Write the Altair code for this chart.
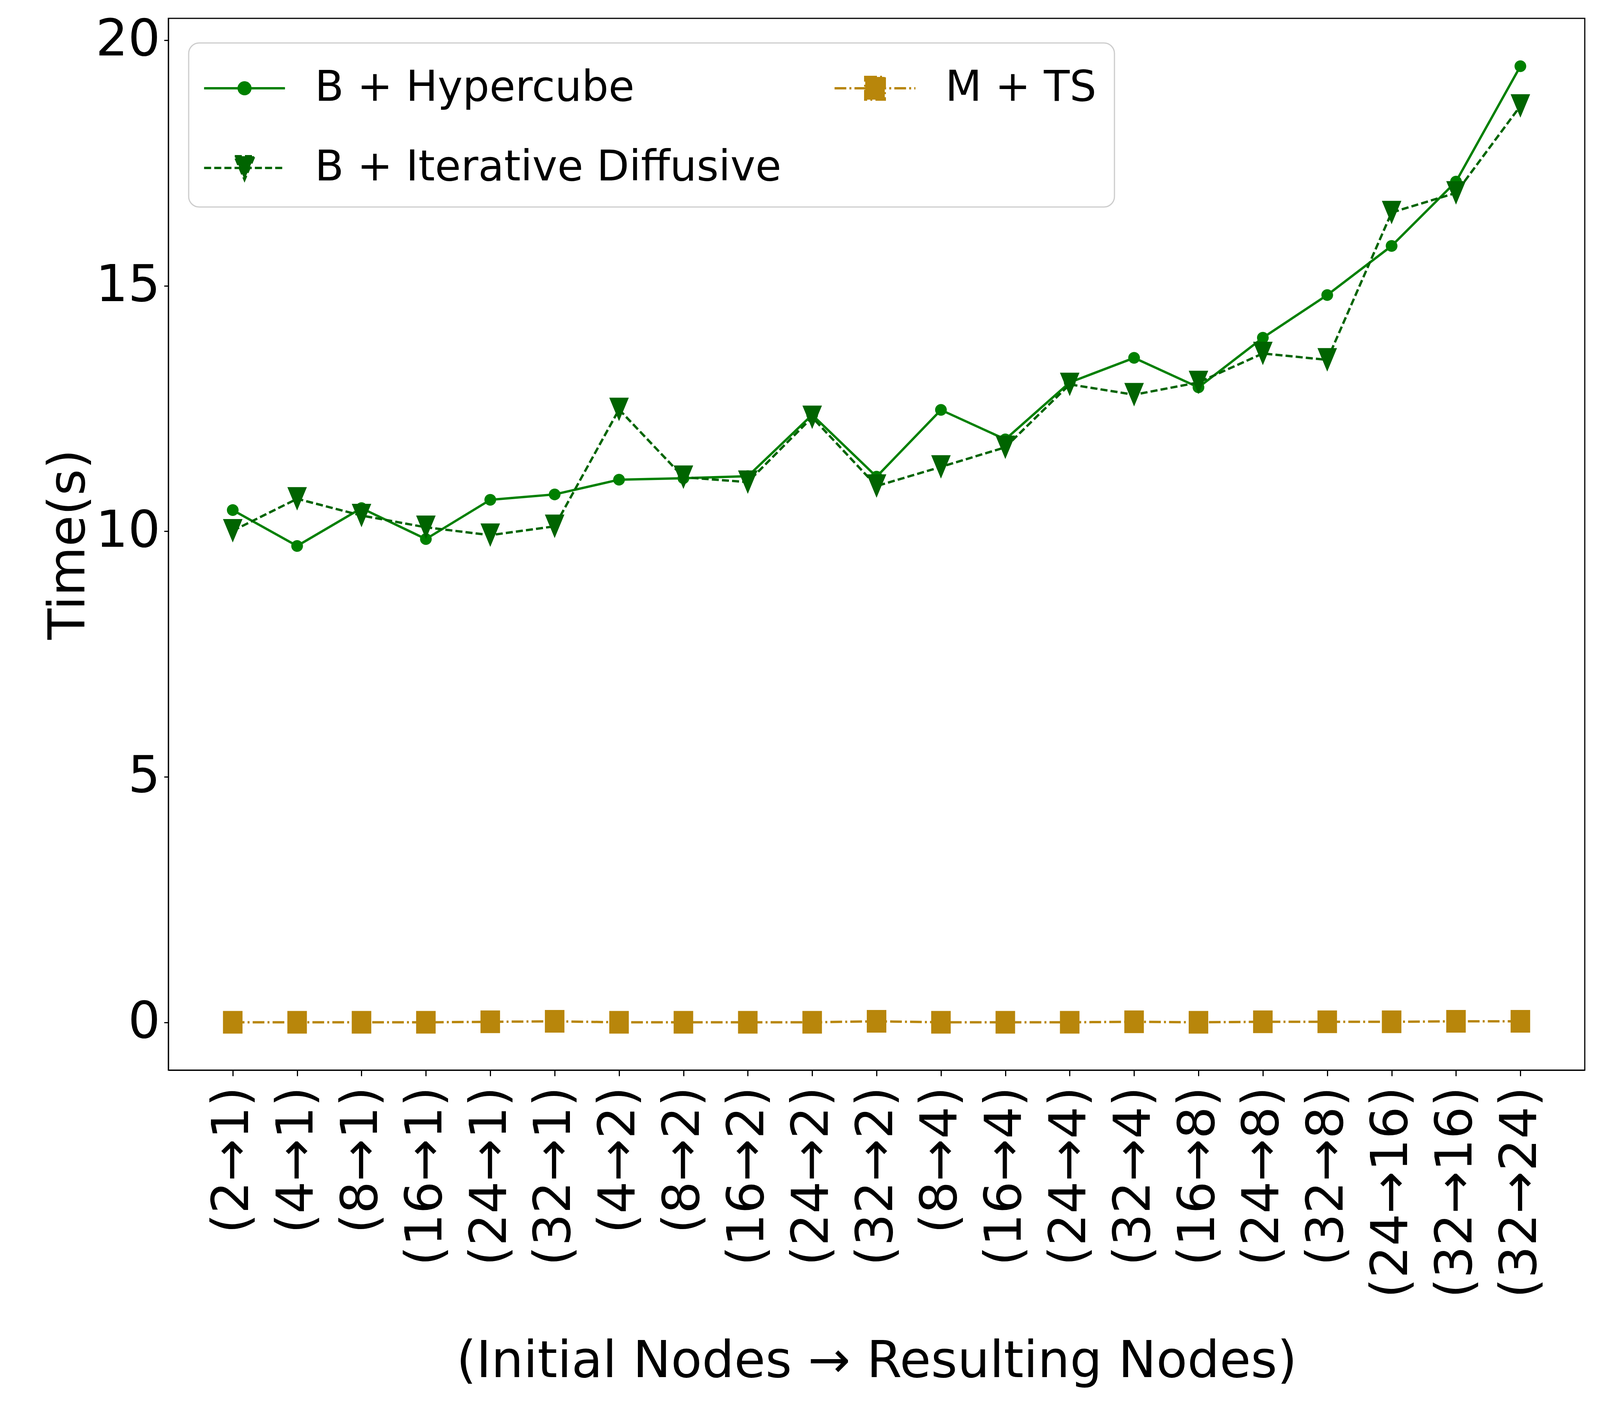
import altair as alt
import pandas as pd

categories = ["(2→1)", "(4→1)", "(8→1)", "(16→1)", "(24→1)", "(32→1)",
              "(4→2)", "(8→2)", "(16→2)", "(24→2)", "(32→2)",
              "(8→4)", "(16→4)", "(24→4)", "(32→4)",
              "(16→8)", "(24→8)", "(32→8)",
              "(24→16)", "(32→16)", "(32→24)"]

hypercube = [10.43, 9.70, 10.47, 9.84, 10.64, 10.75,
             11.05, 11.08, 11.12, 12.37, 11.11,
             12.47, 11.87, 13.03, 13.53,
             12.93, 13.94, 14.81,
             15.81, 17.12, 19.47]

iterative = [10.01, 10.66, 10.32, 10.08, 9.92, 10.10,
             12.48, 11.10, 11.00, 12.32, 10.92,
             11.31, 11.71, 12.99, 12.78,
             13.03, 13.62, 13.49,
             16.49, 16.89, 18.66]

mts = [0.00, 0.00, 0.00, 0.00, 0.01, 0.02,
       0.00, 0.00, 0.00, 0.00, 0.02,
       0.00, 0.00, 0.00, 0.01,
       0.00, 0.01, 0.01,
       0.01, 0.02, 0.02]

# legend entries (Vega fills the 2-column legend column by column)
legend_order = ["B + Hypercube", "B + Iterative Diffusive", "M + TS"]
colors = ["#008000", "#006400", "#b8860b"]
dashes = [[1, 0], [18, 8], [30, 8, 5, 8]]
# custom symbols: a line segment plus a marker (the segment only shows when stroked, i.e. in the legend)
shapes = [
    "M-1.548,0L1.548,0M-0.2243,0A0.2243,0.2243,0,1,0,0.2243,0A0.2243,0.2243,0,1,0,-0.2243,0Z",
    "M-1.548,0L1.548,0M-0.374,-0.449L0.374,-0.449L0,0.449Z",
    "M-1.548,0L1.548,0M-0.374,-0.434L0.374,-0.434L0.374,0.434L-0.374,0.434Z",
]

rows = []
for name, vals in [("B + Hypercube", hypercube),
                   ("B + Iterative Diffusive", iterative),
                   ("M + TS", mts)]:
    for i, (c, v) in enumerate(zip(categories, vals)):
        rows.append({"idx": i, "label": c, "time": v, "series": name})
df = pd.DataFrame(rows)

FONT = "DejaVu Sans"
FS = 130

x_enc = alt.X(
    "label:N",
    sort=categories,
    scale=alt.Scale(type="point", padding=1),
    axis=alt.Axis(
        title="(Initial Nodes → Resulting Nodes)",
        labelAngle=270,
        labelFontSize=FS,
        labelPadding=27,
        labelLimit=2000,
        tickSize=15,
        tickWidth=3,
        domainWidth=3,
        titleFontSize=FS,
        titleFontWeight="normal",
        titleBaseline="alphabetic",
        titleY=785,
        grid=False,
    ),
)
y_enc = alt.Y(
    "time:Q",
    scale=alt.Scale(domain=[-0.974, 20.444], nice=False, zero=False),
    axis=alt.Axis(
        title="Time(s)",
        values=[0, 5, 10, 15, 20],
        labelFontSize=FS,
        labelPadding=10,
        labelLimit=2000,
        tickSize=11,
        tickWidth=3,
        domainWidth=3,
        titleFontSize=FS,
        titleFontWeight="normal",
        titleBaseline="alphabetic",
        titleX=-216,
        grid=False,
    ),
)

base = alt.Chart(df).encode(x=x_enc, y=y_enc, order=alt.Order("idx:Q"))

leg = alt.Legend(title=None)
shape_enc = alt.Shape("series:N", scale=alt.Scale(domain=legend_order, range=shapes), legend=leg)
color_enc = alt.Color("series:N", scale=alt.Scale(domain=legend_order, range=colors), legend=leg)
stroke_enc = alt.Stroke("series:N", scale=alt.Scale(domain=legend_order, range=colors), legend=leg)
dash_enc = alt.StrokeDash("series:N", scale=alt.Scale(domain=legend_order, range=dashes), legend=leg)

draw_order = ["B + Hypercube", "B + Iterative Diffusive", "M + TS"]
layers = []
for name in draw_order:
    k = legend_order.index(name)
    line_kwargs = dict(color=colors[k], strokeWidth=6, strokeJoin="round")
    if name != "B + Hypercube":
        line_kwargs["strokeDash"] = dashes[k]
    line = base.transform_filter(alt.datum.series == name).mark_line(**line_kwargs)
    pts = base.transform_filter(alt.datum.series == name).mark_point(
        filled=True, opacity=1, size=17889
    ).encode(
        shape=shape_enc,
        color=color_enc,
        stroke=stroke_enc,
        strokeDash=dash_enc,
        strokeWidth=alt.value(0),
    )
    layers += [line, pts]

legend_cfg = dict(
    orient="none",
    legendX=52,
    legendY=63,
    columns=2,
    columnPadding=123,
    rowPadding=80,
    padding=46,
    fillColor="white",
    strokeColor="#cccccc",
    cornerRadius=27,
    symbolSize=17889,
    symbolStrokeWidth=6,
    symbolOffset=27,
    labelOffset=110,
    labelFontSize=108,
    labelFont=FONT,
    labelColor="black",
    labelLimit=4000,
    labelBaseline="middle",
)


def build(extra_legend):
    cfg = dict(legend_cfg)
    cfg.update(extra_legend)
    return alt.layer(*layers).properties(
        width=3626,
        height=2693,
        autosize=alt.AutoSizeParams(type="none"),
        padding={"left": 423, "top": 39, "right": 21, "bottom": 838},
        background="white",
    ).configure(
        font=FONT,
    ).configure_axis(
        labelFont=FONT,
        titleFont=FONT,
        labelColor="black",
        titleColor="black",
        tickColor="black",
        domainColor="black",
    ).configure_view(
        stroke="black",
        strokeWidth=3,
        fill="white",
    ).configure_legend(**cfg)


try:
    chart = build({"strokeWidth": 3})
    chart.to_dict()
except Exception:
    chart = build({})

chart.save("out.html", embed_options={"renderer": "svg", "actions": False})
